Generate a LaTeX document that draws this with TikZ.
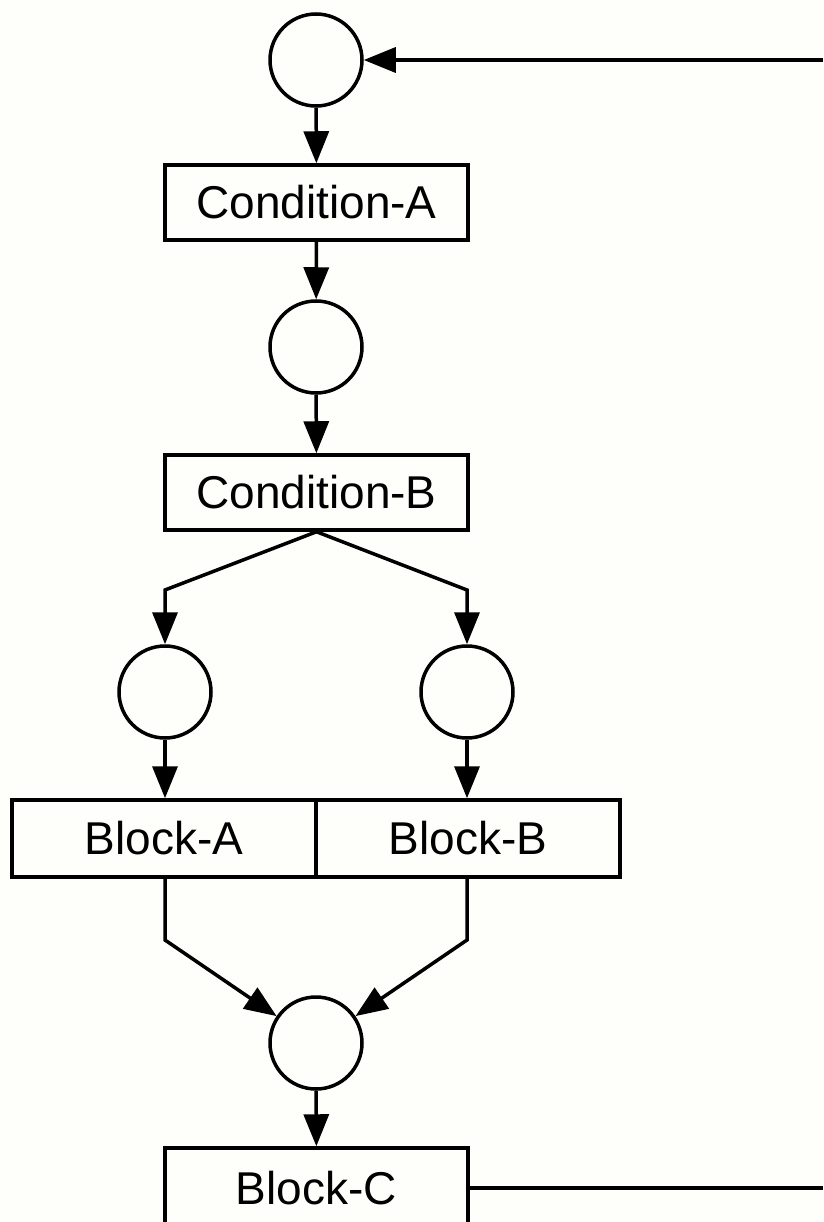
\documentclass[tikz,border=0pt]{standalone}
\usepackage{fontspec}
\setmainfont{Liberation Sans}
\usetikzlibrary{arrows.meta}
\definecolor{paper}{RGB}{254,254,250}
\tikzset{
  x=1pt, y=-1pt,
  place/.style={circle, draw, line width=3.5pt, minimum size=92pt, inner sep=0pt},
  trans/.style={rectangle, draw, line width=3.5pt, minimum width=303pt, minimum height=75pt,
                inner sep=0pt, font=\fontsize{46}{50}\selectfont},
  halfbox/.style={trans, minimum width=304pt, minimum height=77pt},
  flow/.style={line width=3.5pt, -{Triangle[length=32pt, width=25pt]}},
  wire/.style={line width=3.5pt}
}
\begin{document}
\begin{tikzpicture}
  \fill[paper] (0,0) rectangle (823,1222);
  \useasboundingbox (0,0) rectangle (823,1222);
  \clip (0,0) rectangle (823,1222);

  % places and transitions of the net
  \node[place] (p0) at (316,60) {};
  \node[trans] (condA) at (316.5,202.5) {Condition-A};
  \node[place] (p1) at (316,347) {};
  \node[trans] (condB) at (316.5,492.5) {Condition-B};
  \node[place] (pA) at (165,692) {};
  \node[place] (pB) at (467,692) {};
  \node[halfbox] (blkA) at (164,838.5) {Block-A};
  \node[halfbox] (blkB) at (468,838.5) {Block-B};
  \node[place] (pC) at (316,1043) {};
  \node[trans, minimum height=80pt] (blkC) at (316.5,1188) {Block-C};

  % bend points of the fork and the join
  \coordinate (forkA) at (165,590);
  \coordinate (forkB) at (467,590);
  \coordinate (joinA) at (165,940);
  \coordinate (joinB) at (467,940);
  % the loop back leaves and re-enters at the right edge
  \coordinate (loopOut) at (823,1188);
  \coordinate (loopIn) at (823,60);

  % arcs
  \draw[flow] (p0) -- (condA);
  \draw[flow] (condA) -- (p1);
  \draw[flow] (p1) -- (condB);
  \draw[flow] (condB.south) -- (forkA) -- (pA);
  \draw[flow] (condB.south) -- (forkB) -- (pB);
  \draw[flow] (pA) -- (blkA.north -| pA);
  \draw[flow] (pB) -- (blkB.north -| pB);
  \draw[flow] (blkA.south -| joinA) -- (joinA) -- (pC);
  \draw[flow] (blkB.south -| joinB) -- (joinB) -- (pC);
  \draw[flow] (pC) -- (blkC);
  \draw[wire] (blkC.east) -- (loopOut);
  \draw[flow] (loopIn) -- (p0);
\end{tikzpicture}
\end{document}
